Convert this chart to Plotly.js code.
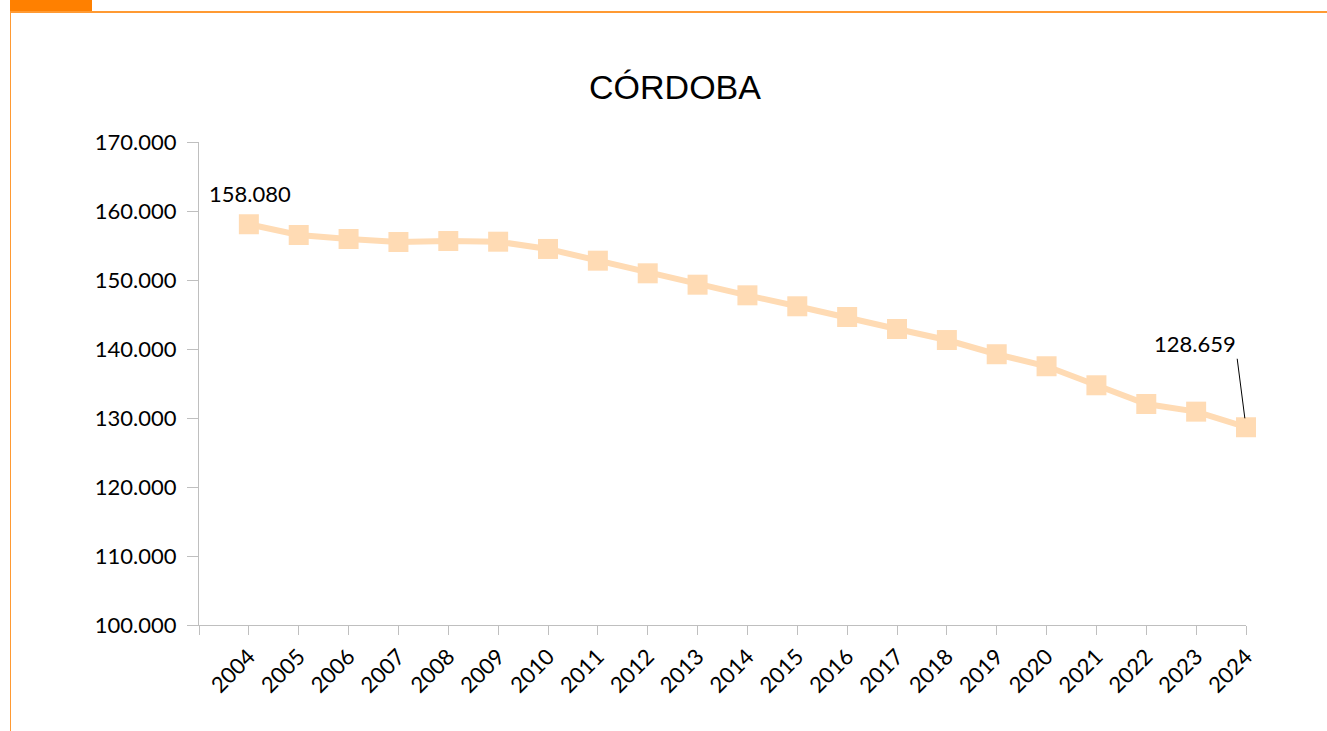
<!DOCTYPE html>
<html>
<head>
<meta charset="utf-8">
<script src="https://cdn.plot.ly/plotly-3.0.1.min.js"></script>
<style>
  html, body { margin: 0; padding: 0; background: #fff; }
  #wrap { position: relative; width: 1327px; height: 731px; overflow: hidden; }
  #chart { position: absolute; left: 0; top: 0; width: 1327px; height: 731px; }
  .deco { position: absolute; background: #FF8000; }
</style>
</head>
<body>
<div id="wrap">
  <div id="chart"></div>
  <div class="deco" style="left:10px;top:0;width:82px;height:12px;"></div>
  <div class="deco" style="left:10px;top:11px;width:1317px;height:2px;background:#FF9A33;"></div>
  <div class="deco" style="left:10px;top:12px;width:1px;height:719px;background:#FF9A33;"></div>
</div>
<script>
// Data
const years = [2004, 2005, 2006, 2007, 2008, 2009, 2010, 2011, 2012, 2013, 2014,
               2015, 2016, 2017, 2018, 2019, 2020, 2021, 2022, 2023, 2024];
const population = [158080, 156520, 155940, 155510, 155650, 155550, 154500, 152800,
                    150970, 149320, 147780, 146190, 144640, 142900, 141300, 139240,
                    137500, 134740, 132030, 130920, 128659];
const tickYears = [2003, 2004, 2005, 2006, 2007, 2008, 2009, 2010, 2011, 2012, 2013, 2014,
                   2015, 2016, 2017, 2018, 2019, 2020, 2021, 2022, 2023, 2024];
const tickLabels = ['', '2004', '2005', '2006', '2007', '2008', '2009', '2010', '2011', '2012',
                    '2013', '2014', '2015', '2016', '2017', '2018', '2019', '2020', '2021',
                    '2022', '2023', '2024'];
const chartTitle = 'CÓRDOBA';
const firstLabel = '158.080';
const lastLabel = '128.659';

const lineColor = '#FFDBB4';
const axisColor = '#BFBFBF';
const labelFont = { family: 'Lato, "DejaVu Sans", sans-serif', size: 22, color: '#000' };

const trace = {
  x: years,
  y: population,
  type: 'scatter',
  mode: 'lines+markers',
  line: { color: lineColor, width: 6 },
  marker: { symbol: 'square', size: 20, color: lineColor },
  cliponaxis: false,
  hoverinfo: 'x+y'
};

const layout = {
  width: 1327,
  height: 731,
  margin: { l: 199, r: 81, t: 142, b: 106 },
  paper_bgcolor: 'rgba(0,0,0,0)',
  plot_bgcolor: 'rgba(0,0,0,0)',
  separators: ',.',
  showlegend: false,
  title: {
    text: chartTitle,
    font: { family: '"Liberation Sans", Arial, sans-serif', size: 34, color: '#000' },
    x: 675 / 1327, xref: 'container', xanchor: 'center',
    y: 1 - 87 / 731, yref: 'container', yanchor: 'middle'
  },
  xaxis: {
    range: [2003, 2024],
    tickmode: 'array',
    tickvals: tickYears,
    ticktext: tickLabels,
    tickangle: -45,
    ticks: 'outside',
    ticklen: 9,
    tickcolor: axisColor,
    tickwidth: 1,
    showline: true,
    linecolor: axisColor,
    linewidth: 1,
    showgrid: false,
    zeroline: false,
    tickfont: labelFont
  },
  yaxis: {
    range: [100000, 170000],
    dtick: 10000,
    tick0: 100000,
    tickformat: ',.0f',
    ticks: 'outside',
    ticklen: 11,
    tickcolor: axisColor,
    tickwidth: 1,
    showline: true,
    linecolor: axisColor,
    linewidth: 1,
    showgrid: false,
    zeroline: false,
    tickfont: labelFont,
    ticklabelstandoff: 6
  },
  annotations: [
    {
      x: years[0], y: population[0],
      text: firstLabel,
      showarrow: false,
      yshift: 31, xshift: 1,
      font: labelFont
    },
    {
      x: years[years.length - 1], y: population[population.length - 1],
      text: lastLabel,
      showarrow: false,
      xshift: -51, yshift: 84,
      font: labelFont
    },
    {
      x: years[years.length - 1], y: population[population.length - 1],
      text: '',
      showarrow: true,
      arrowhead: 0,
      arrowwidth: 1,
      arrowcolor: '#000',
      ax: -9, ay: -70,
      standoff: 9,
      font: { size: 1 }
    }
  ]
};

Plotly.newPlot('chart', [trace], layout, { displayModeBar: false, staticPlot: true });
</script>
</body>
</html>
